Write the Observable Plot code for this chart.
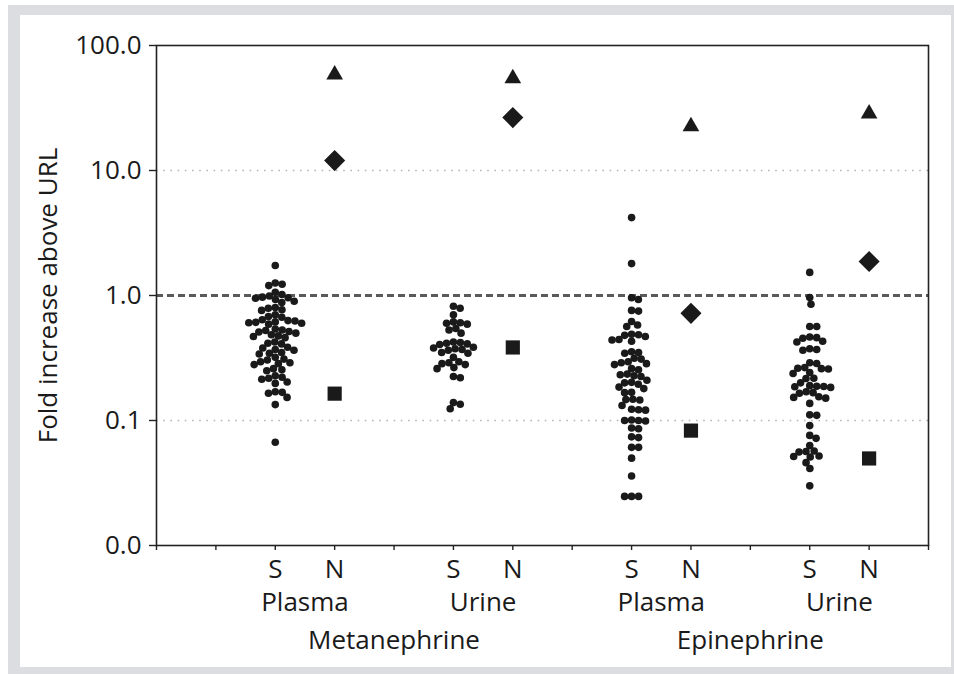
<!DOCTYPE html>
<html>
<head>
<meta charset="utf-8">
<script src="https://cdn.jsdelivr.net/npm/d3@7"></script>
<script src="https://cdn.jsdelivr.net/npm/@observablehq/plot@0.6"></script>
<style>
  html, body { margin: 0; padding: 0; background: #ffffff; width: 954px; height: 674px; overflow: hidden; }
  #outer { position: absolute; left: 8px; top: 5px; width: 960px; height: 680px; background: #dcdde0; }
  #inner { position: absolute; left: 20px; top: 15px; width: 931px; height: 652px; background: #ffffff; }
  #chart { position: absolute; left: 0; top: 0; }
</style>
</head>
<body>
<div id="outer"></div>
<div id="inner"></div>
<div id="chart"></div>
<script>
// ---- Data ----
const sPositions = [2, 5, 8, 11];
const nPositions = [3, 6, 9, 12];
const tickLabels = {2: "S", 3: "N", 5: "S", 6: "N", 8: "S", 9: "N", 11: "S", 12: "N"};
const specimenLabels = ["Plasma", "Urine", "Plasma", "Urine"];
const specimenPositions = [2.5, 5.5, 8.5, 11.5];
const analyteLabels = ["Metanephrine", "Epinephrine"];
const analytePositions = [4, 10];
const yTicks = [0.01, 0.1, 1, 10, 100];

const plasmaMetS = [1.74,
  1.26, 1.20, 1.23,
  1.06, 1.02, 0.99, 0.97, 0.95, 0.93, 0.96,
  0.90, 0.88,
  0.79, 0.76, 0.77, 0.80,
  0.70, 0.67, 0.68,
  0.63, 0.61, 0.59, 0.615, 0.625, 0.60, 0.64, 0.605,
  0.53, 0.51, 0.525, 0.50, 0.54, 0.515,
  0.475, 0.46, 0.485, 0.47,
  0.425, 0.41, 0.415,
  0.385, 0.37, 0.38, 0.365,
  0.35, 0.34, 0.345,
  0.31, 0.32, 0.305,
  0.29, 0.28, 0.295, 0.285,
  0.26, 0.25, 0.255,
  0.222, 0.228, 0.218, 0.214,
  0.203, 0.198,
  0.17, 0.165, 0.168,
  0.153, 0.134, 0.067];

const urineMetS = [0.82, 0.79,
  0.70,
  0.605, 0.59, 0.60, 0.615,
  0.545, 0.53,
  0.50,
  0.425, 0.415, 0.41, 0.42, 0.405,
  0.385, 0.375, 0.38, 0.37, 0.365,
  0.35, 0.345,
  0.32,
  0.29, 0.285, 0.295, 0.28,
  0.265, 0.26,
  0.225, 0.22,
  0.139, 0.135,
  0.124];

const plasmaEpiS = [4.2,
  1.80,
  0.96, 0.93,
  0.76, 0.75,
  0.62, 0.58, 0.565,
  0.485, 0.48, 0.47, 0.49,
  0.445, 0.43, 0.44,
  0.355, 0.35, 0.345,
  0.31, 0.315,
  0.29, 0.285, 0.28, 0.295,
  0.255, 0.26,
  0.232, 0.228, 0.225, 0.235,
  0.21,
  0.20, 0.195, 0.202,
  0.185, 0.18,
  0.167, 0.168,
  0.148, 0.147, 0.146,
  0.132,
  0.122, 0.121, 0.123,
  0.10, 0.10, 0.099, 0.101,
  0.086, 0.087,
  0.073, 0.074,
  0.061, 0.061,
  0.050,
  0.036,
  0.0247, 0.0247, 0.0247];

const urineEpiS = [1.53,
  0.965,
  0.85,
  0.565, 0.565,
  0.465, 0.46, 0.455,
  0.43, 0.425,
  0.375, 0.37, 0.365,
  0.286, 0.29,
  0.265, 0.26, 0.258, 0.262,
  0.238, 0.242,
  0.217, 0.218,
  0.20,
  0.19, 0.187, 0.184, 0.188, 0.186,
  0.167, 0.17, 0.165,
  0.153, 0.151, 0.155,
  0.137,
  0.11, 0.111,
  0.091,
  0.076,
  0.072,
  0.063,
  0.0565, 0.057, 0.056,
  0.0515, 0.052, 0.051,
  0.046,
  0.0413,
  0.030];

const triangleValues = [58.5, 54.5, 22.5, 28.5];
const diamondValues = [12.0, 26.5, 0.72, 1.87];
const squareValues = [0.164, 0.384, 0.083, 0.0497];

// ---- Layout ----
const W = 954, H = 674;
const mL = 156, mR = 26, mT = 45, mB = 129;
const xDomain = [0, 13];
const yDomain = [0.01, 100];
const dotR = 3.8;
const ink = "#1a1a1a";

// pixel helpers (same mapping as Plot's scales) for the beeswarm layout
const pxPerUnit = (W - mL - mR) / (xDomain[1] - xDomain[0]);
const yPix = d3.scaleLog(yDomain, [H - mB, mT]);

function swarm(values, cx) {
  const pts = values.map(v => ({v, py: yPix(v)})).sort((a, b) => a.py - b.py);
  const placed = [];
  const d = 2 * dotR - 0.6;
  for (const p of pts) {
    const cands = [0];
    for (const q of placed) {
      const dy = p.py - q.py;
      if (Math.abs(dy) < d) {
        const dx = Math.sqrt(d * d - dy * dy);
        cands.push(q.ox + dx, q.ox - dx);
      }
    }
    cands.sort((a, b) => Math.abs(a) - Math.abs(b));
    for (const c of cands) {
      if (placed.every(q => (q.ox - c) ** 2 + (q.py - p.py) ** 2 >= d * d - 1e-6)) { p.ox = c; break; }
    }
    placed.push(p);
  }
  return placed.map(p => ({x: cx + p.ox / pxPerUnit, y: p.v}));
}

const sGroups = [plasmaMetS, urineMetS, plasmaEpiS, urineEpiS];
const swarmData = sGroups.flatMap((vals, i) => swarm(vals, sPositions[i]));

const triData = triangleValues.map((v, i) => ({x: nPositions[i], y: v}));
const diaData = diamondValues.map((v, i) => ({x: nPositions[i], y: v}));
const sqData = squareValues.map((v, i) => ({x: nPositions[i], y: v}));

const chart = Plot.plot({
  width: W,
  height: H,
  marginLeft: mL,
  marginRight: mR,
  marginTop: mT,
  marginBottom: mB,
  style: {fontFamily: "'Open Sans', sans-serif", fontSize: "26px", color: ink, background: "transparent", overflow: "visible"},
  x: {domain: xDomain, axis: null},
  y: {type: "log", domain: yDomain, axis: null},
  marks: [
    Plot.ruleY([0.1, 10], {stroke: "#b4b4b4", strokeWidth: 1.6, strokeDasharray: "1.6,5.6"}),
    Plot.ruleY([1], {stroke: "#5a5a5a", strokeWidth: 3, strokeDasharray: "7,4"}),
    Plot.frame({stroke: "#222", strokeWidth: 1.6}),
    Plot.axisY({ticks: yTicks, tickFormat: d => d.toFixed(1), tickSize: 7, tickPadding: 8, label: null, stroke: "#222", strokeWidth: 1.4, fontSize: 26}),
    Plot.axisX({ticks: d3.range(0, 14), tickFormat: i => tickLabels[i] ?? "", tickSize: 5, tickPadding: 9, label: null, stroke: "#222", strokeWidth: 1.4, fontSize: 26}),
    Plot.dot(swarmData, {x: "x", y: "y", r: dotR, fill: ink}),
    Plot.dot(triData, {x: "x", y: "y", symbol: "triangle", r: 6.2, fill: ink}),
    Plot.dot(diaData, {x: "x", y: "y", symbol: "diamond2", r: 9.5, fill: ink}),
    Plot.dot(sqData, {x: "x", y: "y", symbol: "square", r: 8, fill: ink}),
    Plot.text(specimenLabels, {x: (d, i) => specimenPositions[i], text: d => d, frameAnchor: "bottom", lineAnchor: "middle", dy: 57, fontSize: 26, fill: ink}),
    Plot.text(analyteLabels, {x: (d, i) => analytePositions[i], text: d => d, frameAnchor: "bottom", lineAnchor: "middle", dy: 95, fontSize: 26, fill: ink}),
    Plot.text(["Fold increase above URL"], {frameAnchor: "left", dx: -108, rotate: -90, textAnchor: "middle", lineAnchor: "middle", fontSize: 26, fill: ink})
  ]
});

document.getElementById("chart").appendChild(chart);
</script>
</body>
</html>
